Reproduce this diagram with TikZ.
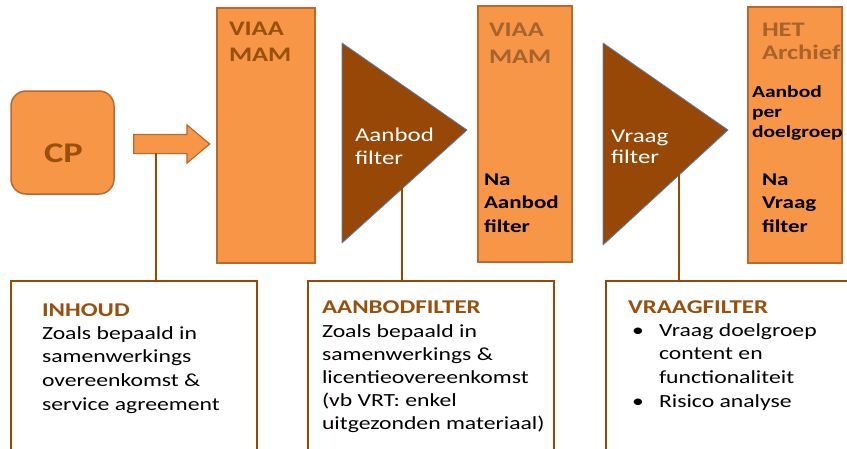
\documentclass[tikz,border=0pt]{standalone}
\usepackage{fontspec}
\setmainfont[FakeStretch=1.28]{Carlito}
\usetikzlibrary{shapes.arrows}
\definecolor{orfill}{HTML}{F79646}
\definecolor{ordraw}{HTML}{B66A2E}
\definecolor{brn}{HTML}{974806}
\definecolor{brntxt}{HTML}{98500F}
\definecolor{brnlt}{HTML}{A6642C}
\definecolor{triline}{HTML}{4F81BD}
\newcommand\mylines[1]{\begin{tabular}[t]{@{}l@{}}#1\end{tabular}}
\begin{document}
\begin{tikzpicture}[x=1pt,y=-1pt,
  orbox/.style={draw=ordraw, line width=1.5pt, fill=orfill, inner sep=0pt, outer sep=0pt},
  infobox/.style={draw=brn, line width=1.6pt, fill=white, inner sep=0pt, outer sep=0pt},
  conn/.style={draw=brn, line width=2pt},
  tri/.style={fill=brn, draw=triline, line width=0.8pt, line join=round},
  txt/.style={anchor=base west, inner sep=0pt, outer sep=0pt}
]
\useasboundingbox (0,0) rectangle (847,448);
\clip (0,0) rectangle (847,448);

% orange shapes
\node[orbox, rounded corners=15pt, minimum width=103pt, minimum height=103pt] (cp) at (62.5,142.5) {};
\node[orbox, minimum width=98pt, minimum height=255pt] (mam1) at (266,135.5) {};
\node[orbox, minimum width=94pt, minimum height=256pt] (mam2) at (525,134) {};
\node[orbox, minimum width=94pt, minimum height=256pt] (arch) at (795,135) {};
\node[single arrow, draw=ordraw, fill=orfill, line width=1.2pt, minimum height=76pt,
      minimum width=37pt, single arrow head extend=9.5pt, single arrow tip angle=80,
      inner xsep=0pt, inner ysep=9pt, outer sep=0pt] (arr) at (166,144) {};

% filter triangles
\path[tri] (342,43) -- (467,130) -- (342,243) -- cycle;
\path[tri] (603,43) -- (728,130) -- (603,245) -- cycle;
\coordinate (t1) at (402,166);
\coordinate (t2) at (679,173);
\coordinate (a1) at (156,153);

% info boxes
\node[infobox, minimum width=246pt, minimum height=189pt] (boxA) at (134,375.5) {};
\node[infobox, minimum width=246pt, minimum height=189pt] (boxB) at (431,375.5) {};
\node[infobox, minimum width=264pt, minimum height=189pt] (boxC) at (738,375.5) {};

% connectors
\draw[conn] (a1) -- (a1 |- boxA.north);
\draw[conn] (t1) -- (t1 |- boxB.north);
\draw[conn] (t2) -- (t2 |- boxC.north);

% texts in orange shapes
\node[anchor=base, inner sep=0pt, text=brntxt, font=\fontsize{28.5}{34}\selectfont\bfseries] (cpt) at (63.5,162) {CP};
\node[txt, text=brntxt, font=\fontsize{20.7}{26}\selectfont\bfseries] (mam1t) at (229,35) {\mylines{VIAA\\MAM}};
\node[txt, text=brnlt, font=\fontsize{20.7}{27}\selectfont\bfseries] (mam2t) at (489,36) {\mylines{VIAA\\MAM}};
\node[txt, text=black, font=\fontsize{18}{23.5}\selectfont\bfseries] (mam2n) at (484,185) {\mylines{Na\\Aanbod\\filter}};
\node[txt, text=brnlt, font=\fontsize{20.7}{23}\selectfont\bfseries] (archt) at (762,36) {\mylines{HET\\Archief}};
\node[txt, text=black, font=\fontsize{16.8}{20}\selectfont\bfseries] (archa) at (752,97) {\mylines{Aanbod\\per\\doelgroep}};
\node[txt, text=black, font=\fontsize{18}{23.5}\selectfont\bfseries] (archn) at (762,185) {\mylines{Na\\Vraag\\filter}};

% triangle texts
\node[txt, text=white, font=\fontsize{19.5}{23}\selectfont] (t1t) at (355,141) {\mylines{Aanbod\\filter}};
\node[txt, text=white, font=\fontsize{19.5}{21}\selectfont] (t2t) at (611,142) {\mylines{Vraag\\filter}};

% info box texts
\node[txt, text=brntxt, font=\fontsize{19.5}{24}\selectfont\bfseries] (ah) at (42,316) {INHOUD};
\node[txt, font=\fontsize{18.5}{23.7}\selectfont] (ab) at (42,339) {\mylines{Zoals bepaald in\\samenwerkings\\overeenkomst \&\\service agreement}};
\node[txt, text=brntxt, font=\fontsize{19.5}{24}\selectfont\bfseries] (bh) at (322,313) {AANBODFILTER};
\node[txt, font=\fontsize{18.5}{23.2}\selectfont] (bb) at (322,337) {\mylines{Zoals bepaald in\\samenwerkings \&\\licentieovereenkomst\\(vb VRT: enkel\\uitgezonden materiaal)}};
\node[txt, text=brntxt, font=\fontsize{19.5}{24}\selectfont\bfseries] (ch) at (628,313) {VRAAGFILTER};
\node[txt, font=\fontsize{18.5}{23.7}\selectfont] (cbul) at (632,336) {\mylines{•\\ \\ \\•}};
\node[txt, font=\fontsize{18.5}{23.7}\selectfont] (cb) at (659,336) {\mylines{Vraag doelgroep\\content en\\functionaliteit\\Risico analyse}};
\end{tikzpicture}
\end{document}
